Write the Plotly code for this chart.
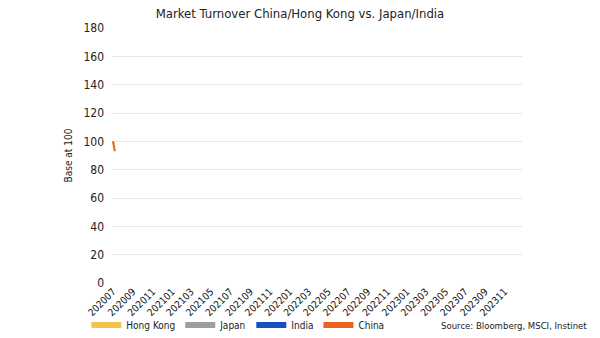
import plotly.graph_objects as go

# Data (first animation frame: series start at base 100)
series_names = ["Hong Kong", "Japan", "India", "China"]
series_colors = ["#F7C24B", "#9E9E9E", "#1450C0", "#E8641C"]
dates_hk = ["2020-07-01", "2020-07-05"]
vals_hk = [100, 98]
dates_jp = ["2020-07-01"]
vals_jp = [100]
dates_in = ["2020-07-01"]
vals_in = [100]
dates_cn = ["2020-07-01", "2020-07-07"]
vals_cn = [100, 93]
y_ticks = [0, 20, 40, 60, 80, 100, 120, 140, 160, 180]

FONT = "DejaVu Sans Condensed, DejaVu Sans, sans-serif"

fig = go.Figure()
data_sets = [(dates_hk, vals_hk), (dates_jp, vals_jp), (dates_in, vals_in), (dates_cn, vals_cn)]
for (xs, ys), name, col in zip(data_sets, series_names, series_colors):
    fig.add_trace(go.Scatter(x=xs, y=ys, mode="lines", name=name,
                             line=dict(color=col, width=2), showlegend=False))
# legend swatches
for name, col in zip(series_names, series_colors):
    fig.add_trace(go.Scatter(x=[None], y=[None], mode="lines", name=name,
                             line=dict(color=col, width=6), showlegend=True))

fig.update_layout(
    width=600, height=338,
    margin=dict(l=111, r=78, t=28, b=55, autoexpand=False),
    paper_bgcolor="white", plot_bgcolor="white",
    font=dict(family=FONT, color="#222", size=12),
    title=dict(text="Market Turnover China/Hong Kong vs. Japan/India",
               x=0.5, xanchor="center", y=0.975, yanchor="top",
               font=dict(size=13, color="#222", family=FONT)),
    legend=dict(orientation="h", x=-0.06, xanchor="left",
                y=-0.165, yanchor="middle",
                font=dict(size=10, family=FONT), itemwidth=30,
                tracegroupgap=0, bgcolor="rgba(0,0,0,0)"),
    xaxis=dict(type="date", range=["2020-06-25", "2023-12-25"],
               dtick="M2", tick0="2020-07-01", tickformat="%Y%m",
               tickangle=-45, tickfont=dict(size=10, family=FONT, color="#111"),
               showgrid=False, showline=False, zeroline=False, ticks="",
               automargin=False),
    yaxis=dict(range=[0, 180], tickvals=y_ticks, showgrid=True,
               gridcolor="#e6e6e6", gridwidth=1, zeroline=False,
               tickfont=dict(size=12, family=FONT, color="#222"),
               ticks="", ticklabelstandoff=6, automargin=False,
               title=dict(text="Base at 100", font=dict(size=10, family=FONT, color="#222"),
                          standoff=8)),
)
fig.add_annotation(text="Source: Bloomberg, MSCI, Instinet", xref="paper", yref="paper",
                   x=1.163, y=-0.165, xanchor="right", yanchor="middle", showarrow=False,
                   font=dict(size=9.5, family=FONT, color="#222"))

fig.write_html("out.html")
